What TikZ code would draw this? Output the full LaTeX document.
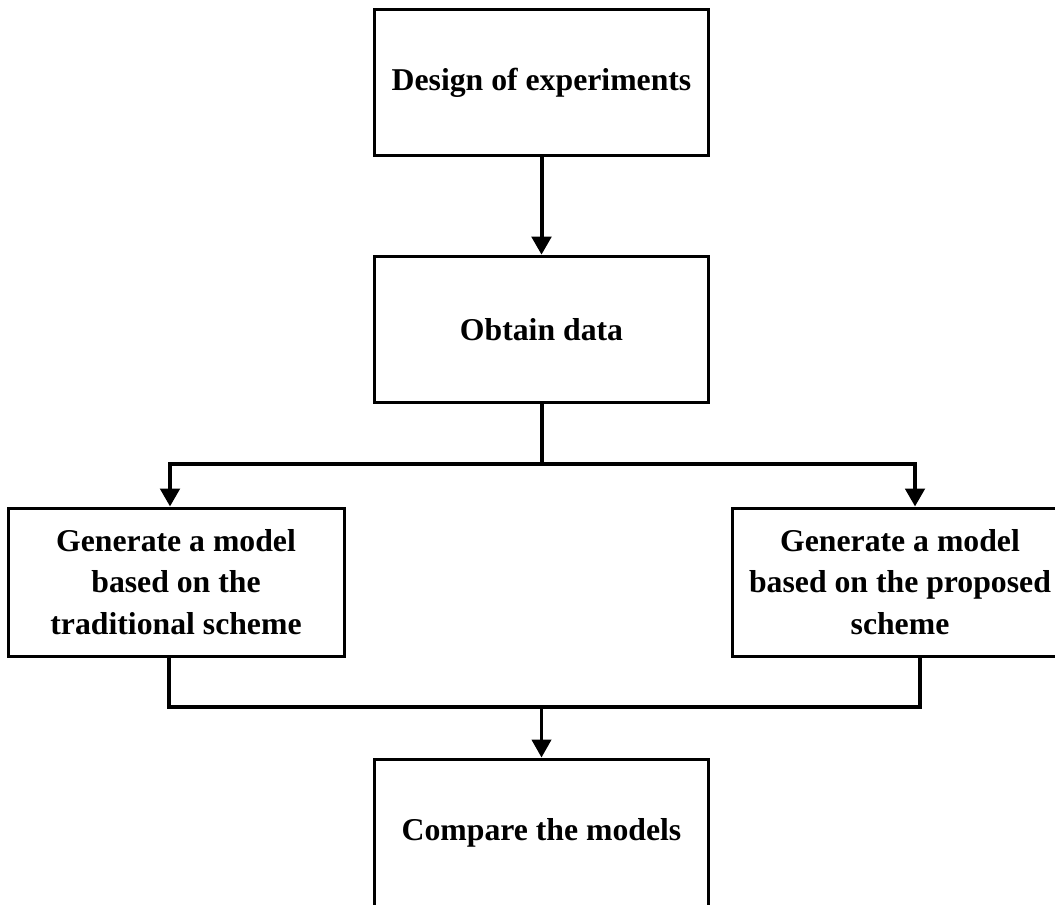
\documentclass[tikz,border=0pt]{standalone}
\usepackage{fontspec}
\setmainfont{Liberation Serif}
\usetikzlibrary{arrows.meta}
\begin{document}
\begin{tikzpicture}[x=0.75pt,y=-0.75pt,
  box/.style={draw=black, line width=2.25pt, fill=white, align=center,
    inner sep=0pt, font=\bfseries\fontsize{23.8}{31}\selectfont},
  flow/.style={line width=3pt, -{Triangle[width=14.5pt,length=13.5pt]}},
  link/.style={line width=3pt}]
\useasboundingbox (0,0) rectangle (1055,904);
\clip (0,0) rectangle (1055,904);

% process boxes
\node[box, minimum width=251pt, minimum height=109pt] (doe) at (541.5,82.5) {Design of experiments};
\node[box, minimum width=251pt, minimum height=110pt] (data) at (541.5,329.5) {Obtain data};
\node[box, minimum width=252pt, minimum height=111pt] (trad) at (176,582)
  {Generate a model\\based on the\\traditional scheme};
\node[box, minimum width=252pt, minimum height=111pt] (prop) at (900,582)
  {Generate a model\\based on the proposed\\scheme};
\node[box, minimum width=251pt, minimum height=111pt] (cmp) at (541.5,833) {Compare the models};

% junction points of the split and the merge
\coordinate (split) at (541.5,464);
\coordinate (merge) at (541.5,707);

% connectors
\draw[flow] (doe.south) -- (data.north);
\draw[link] (data.south) -- (split);
\draw[flow] (split) -| ([xshift=-4.5pt]trad.north);
\draw[flow] (split) -| ([xshift=11.25pt]prop.north);
\draw[link] ([xshift=-5.25pt]trad.south) |- (merge) -| ([xshift=15pt]prop.south);
\draw[flow, line width=2.5pt] (merge) -- (cmp.north);
\end{tikzpicture}
\end{document}
